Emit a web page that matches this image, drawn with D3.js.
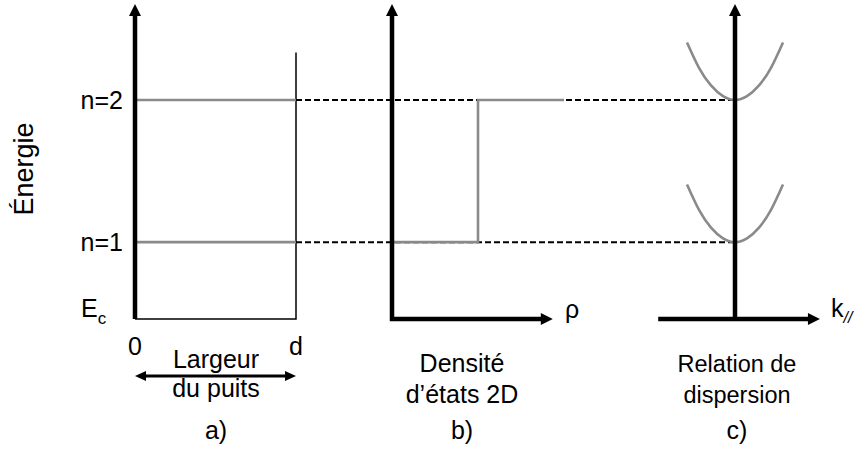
<!DOCTYPE html>
<html>
<head>
<meta charset="utf-8">
<script src="https://cdn.jsdelivr.net/npm/d3@7.9.0/dist/d3.min.js"></script>
<style>
  body { margin: 0; background: #fff; }
  svg { display: block; font-family: "Liberation Sans", Arial, sans-serif; }
</style>
</head>
<body>
<svg id="chart" width="855" height="452"></svg>
<script>
// ------------------- Data -------------------
// energy levels (arbitrary units, Ec = 0)
const levelNames = ['n=1', 'n=2'];
const levelEnergies = [1, 2.85];
const energyTop = 4.1;

// 2D density of states: step heights per level
const dosSteps = [1, 2];
const dosAxisEnd = 1.87;

// dispersion curve sampled around k=0 (shift above level)
const kPoints = [-1, -0.75, -0.5, -0.25, 0, 0.25, 0.5, 0.75, 1];
const dispShift = [0.75, 0.42, 0.19, 0.05, 0, 0.05, 0.19, 0.42, 0.75];
const kAxis = [-1.6, 1.77];

const panelTitles = [['Largeur', 'du puits'], ['Densité', 'd\u2019états 2D'], ['Relation de', 'dispersion']];
const panelLetters = ['a)', 'b)', 'c)'];

const gray = '#8a8a8a';
const fs = 25;
const svg = d3.select('#chart');

// ------------------- Scales -------------------
const y = d3.scaleLinear().domain([0, energyTop]).range([319, 4]);
const xWell = d3.scaleLinear().domain([0, 1]).range([135, 296]);
const xDos = d3.scaleLinear().domain([0, 1]).range([392, 478]);
const xK = d3.scaleLinear().domain([-1, 1]).range([687, 783]);

// arrow head helper
function arrowHead(g, x, yy, dir, size = 12, w = 12) {
  let pts;
  if (dir === 'up') pts = [[x, yy], [x - w / 2, yy + size], [x + w / 2, yy + size]];
  if (dir === 'right') pts = [[x, yy], [x - size, yy - w / 2], [x - size, yy + w / 2]];
  if (dir === 'left') pts = [[x, yy], [x + size, yy - w / 2], [x + size, yy + w / 2]];
  g.append('path').attr('d', 'M' + pts.join('L') + 'Z').attr('fill', '#000');
}

// ------------------- Dashed level lines -------------------
svg.append('g').selectAll('line')
  .data(levelEnergies)
  .join('line')
  .attr('x1', xWell(1)).attr('x2', xK(0))
  .attr('y1', d => y(d)).attr('y2', d => y(d))
  .attr('stroke', '#000').attr('stroke-width', 2)
  .attr('stroke-dasharray', '6,3');

// ------------------- Panel a: quantum well -------------------
const ga = svg.append('g');
ga.append('path')
  .attr('d', `M${xWell(0)},${y(0)}H${xWell(1)}V${y(3.47)}`)
  .attr('fill', 'none').attr('stroke', '#000').attr('stroke-width', 1.5);

ga.selectAll('.lvl')
  .data(levelEnergies)
  .join('line')
  .attr('class', 'lvl')
  .attr('x1', xWell(0)).attr('x2', xWell(1))
  .attr('y1', d => y(d)).attr('y2', d => y(d))
  .attr('stroke', gray).attr('stroke-width', 2.6);

ga.append('line')
  .attr('x1', xWell(0)).attr('x2', xWell(0))
  .attr('y1', y(0)).attr('y2', y(energyTop) + 10)
  .attr('stroke', '#000').attr('stroke-width', 4.5);
arrowHead(ga, xWell(0), y(energyTop), 'up');

ga.selectAll('.lvlname')
  .data(levelNames)
  .join('text')
  .attr('class', 'lvlname')
  .attr('x', 123).attr('y', (d, i) => y(levelEnergies[i]) + 9)
  .attr('text-anchor', 'end').attr('font-size', fs)
  .text(d => d);

const ec = ga.append('text').attr('x', 81).attr('y', 317).attr('font-size', fs);
ec.append('tspan').text('E');
ec.append('tspan').attr('font-size', 17).attr('dy', 7).text('c');

ga.append('text').attr('x', xWell(0)).attr('y', 355)
  .attr('text-anchor', 'middle').attr('font-size', fs).text('0');
ga.append('text').attr('x', xWell(1)).attr('y', 355)
  .attr('text-anchor', 'middle').attr('font-size', fs).text('d');

// width double arrow
ga.append('line')
  .attr('x1', xWell(0) + 6).attr('x2', xWell(1) - 6)
  .attr('y1', 376).attr('y2', 376)
  .attr('stroke', '#000').attr('stroke-width', 3);
arrowHead(ga, xWell(0), 376, 'left', 11, 10);
arrowHead(ga, xWell(1), 376, 'right', 11, 10);

ga.append('text')
  .attr('transform', 'translate(33,169) rotate(-90)')
  .attr('text-anchor', 'middle').attr('font-size', 27)
  .text('Énergie');

// ------------------- Panel b: density of states -------------------
const gb = svg.append('g');
const stepPts = [
  [xDos(0), y(levelEnergies[0])],
  [xDos(dosSteps[0]), y(levelEnergies[0])],
  [xDos(dosSteps[0]), y(levelEnergies[1])],
  [xDos(dosSteps[1]), y(levelEnergies[1])]
];
gb.append('path')
  .attr('d', d3.line()(stepPts))
  .attr('fill', 'none').attr('stroke', gray).attr('stroke-width', 2.6);

gb.append('path')
  .attr('d', `M${xDos(0)},${y(energyTop) + 10}V${y(0)}H${xDos(dosAxisEnd) - 10}`)
  .attr('fill', 'none').attr('stroke', '#000').attr('stroke-width', 4.5)
  .attr('stroke-linejoin', 'miter');
arrowHead(gb, xDos(0), y(energyTop), 'up');
arrowHead(gb, xDos(dosAxisEnd), y(0), 'right');
gb.append('text').attr('x', 565).attr('y', 318).attr('font-size', fs).text('ρ');

// ------------------- Panel c: dispersion -------------------
const gc = svg.append('g');
const curve = d3.line()
  .x((d, i) => xK(kPoints[i]))
  .curve(d3.curveNatural);
gc.selectAll('.band')
  .data(levelEnergies)
  .join('path')
  .attr('class', 'band')
  .attr('d', e => curve.y((d, i) => y(e + dispShift[i]))(kPoints))
  .attr('fill', 'none').attr('stroke', gray).attr('stroke-width', 2.6);

gc.append('line')
  .attr('x1', xK(0)).attr('x2', xK(0))
  .attr('y1', y(0)).attr('y2', y(energyTop) + 10)
  .attr('stroke', '#000').attr('stroke-width', 4.5);
arrowHead(gc, xK(0), y(energyTop), 'up');
gc.append('line')
  .attr('x1', xK(kAxis[0])).attr('x2', xK(kAxis[1]) - 10)
  .attr('y1', y(0)).attr('y2', y(0))
  .attr('stroke', '#000').attr('stroke-width', 4.5);
arrowHead(gc, xK(kAxis[1]), y(0), 'right');
const kl = gc.append('text').attr('x', 831).attr('y', 317).attr('font-size', fs);
kl.append('tspan').text('k');
kl.append('tspan').attr('font-size', 16).attr('dy', 6).attr('font-style', 'italic').text('//');

// ------------------- Panel captions -------------------
const centers = [216, 462, 737];
const captionSize = [25, 25, 23.5];
svg.append('g').selectAll('g')
  .data(panelTitles)
  .join('g')
  .each(function (lines, i) {
    const g = d3.select(this);
    const y1 = i === 0 ? 368 : 372;
    const y2 = i === 0 ? 397 : 403;
    g.append('text').attr('x', centers[i]).attr('y', y1).attr('text-anchor', 'middle').attr('font-size', captionSize[i]).text(lines[0]);
    g.append('text').attr('x', centers[i]).attr('y', y2).attr('text-anchor', 'middle').attr('font-size', captionSize[i]).text(lines[1]);
    g.append('text').attr('x', centers[i]).attr('y', 439).attr('text-anchor', 'middle').attr('font-size', fs).text(panelLetters[i]);
  });
</script>
</body>
</html>
